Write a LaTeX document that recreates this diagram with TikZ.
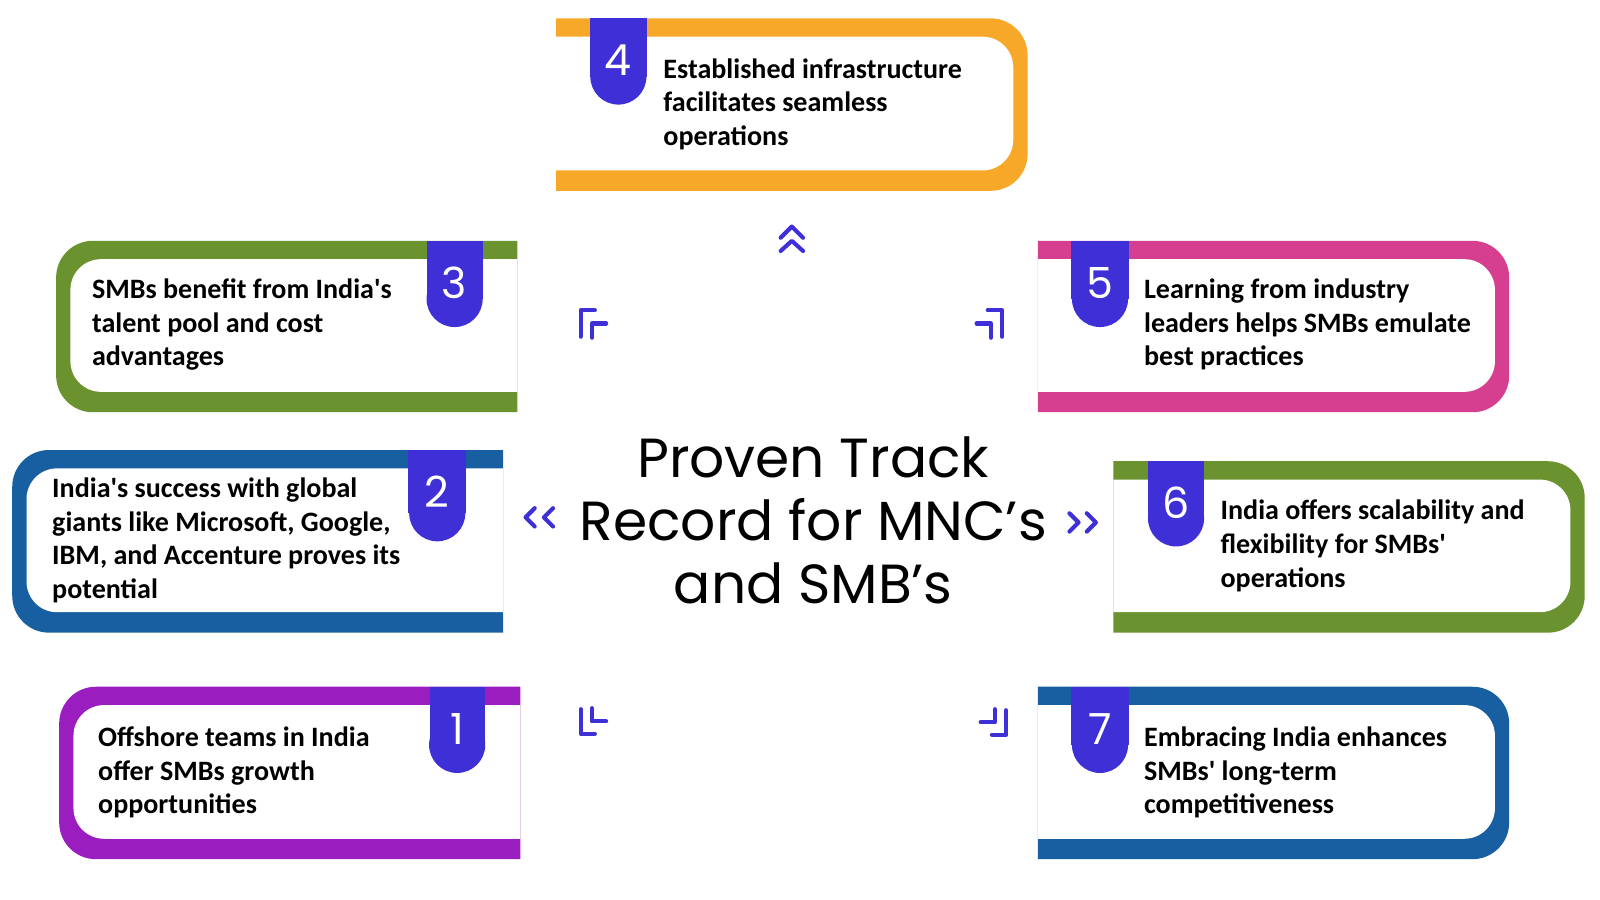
\documentclass[tikz,border=0pt]{standalone}
\usepackage{fontspec}
\setmainfont{Carlito}[Ligatures=TeXOff]
\newfontfamily\popp{Poppins}
\begin{document}
\begin{tikzpicture}[x=1pt,y=-1pt,
 chev/.style={draw=chevc,line width=4pt,line cap=round,line join=round},
 txt/.style={anchor=north west,inner sep=0pt,align=left,font=\fontsize{27.5}{33}\selectfont\bfseries},
 num/.style={text=white,font=\popp\fontsize{42}{42}\selectfont,inner sep=0pt}]
\definecolor{chevc}{HTML}{3F2FD6}
\definecolor{cpur}{HTML}{9A1DBF}
\definecolor{cblu}{HTML}{175FA0}
\definecolor{cgrn}{HTML}{6A922E}
\definecolor{corg}{HTML}{F8A829}
\definecolor{cpnk}{HTML}{D63E8F}
\newcommand\mycardL[5]{%
 \begin{scope}\clip (#2-5,#3-5) rectangle (#4,#5+5);
 \fill[#1,rounded corners=36pt] (#2,#3) rectangle (#4+60,#5);
 \fill[white,rounded corners=30pt] (#2+14,#3+18) rectangle (#4+60,#5-20);
 \end{scope}}
\newcommand\mycardR[5]{%
 \begin{scope}\clip (#2,#3-5) rectangle (#4+5,#5+5);
 \fill[#1,rounded corners=36pt] (#2-60,#3) rectangle (#4,#5);
 \fill[white,rounded corners=30pt] (#2-60,#3+18) rectangle (#4-14,#5-20);
 \end{scope}}
\newcommand\mybadge[5]{%
 \fill[chevc] (#2,#4) rectangle (#3,#5-27);
 \fill[chevc] ({(#2+#3)/2},#5-27) circle (27.5);
 \node[num] (#1) at ({(#2+#3)/2},#4+41) {\bnum};}
\mycardL{cpur}{58}{673}{510}{842}
\mycardL{cblu}{12}{441}{493}{620}
\mycardL{cgrn}{55}{236}{507}{404}
\mycardR{corg}{545}{18}{1007}{187}
\mycardR{cpnk}{1017}{236}{1479}{404}
\mycardR{cgrn}{1091}{452}{1553}{620}
\mycardR{cblu}{1017}{673}{1479}{842}
\def\bnum{1}\mybadge{b1}{421}{475}{673}{757}
\def\bnum{2}\mybadge{b2}{400}{457}{441}{530}
\def\bnum{3}\mybadge{b3}{418}{473}{236}{320}
\def\bnum{4}\mybadge{b4}{578}{634}{18}{102}
\def\bnum{5}\mybadge{b5}{1050}{1106}{236}{320}
\def\bnum{6}\mybadge{b6}{1125}{1180}{452}{535}
\def\bnum{7}\mybadge{b7}{1050}{1106}{673}{757}
\node[txt] (t1) at (96,712) {Offshore teams in India\\offer SMBs growth\\opportunities};
\node[txt] (t2) at (51,468) {India's success with global\\giants like Microsoft, Google,\\IBM, and Accenture proves its\\potential};
\node[txt] (t3) at (90,273) {SMBs benefit from India's\\talent pool and cost\\advantages};
\node[txt] (t4) at (650,57) {Established infrastructure\\facilitates seamless\\operations};
\node[txt] (t5) at (1121,273) {Learning from industry\\leaders helps SMBs emulate\\best practices};
\node[txt] (t6) at (1196,490) {India offers scalability and\\flexibility for SMBs'\\operations};
\node[txt] (t7) at (1121,712) {Embracing India enhances\\SMBs' long-term\\competitiveness};
\node[align=center,font=\popp\fontsize{54}{62}\selectfont,inner sep=0pt] (title) at (797,510) {Proven Track\\Record for MNC’s\\and SMB’s};
\draw[chev] (765,233)--(776,222)--(787,233) (765,246)--(776,236)--(787,246);
\draw[chev] (524,498)--(515,507)--(524,516) (542,498)--(533,507)--(542,516);
\draw[chev] (1048,503)--(1057,512)--(1048,521) (1065,503)--(1074,512)--(1065,521);
\draw[chev] (569,330)--(569,304)--(583,304) (580,331)--(580,317)--(594,317);
\draw[chev] (982,330)--(982,304)--(968,304) (971,331)--(971,317)--(957,317);
\draw[chev] (569,695)--(569,719)--(583,719) (580,694)--(580,707)--(594,707);
\draw[chev] (986,696)--(986,720)--(972,720) (975,695)--(975,708)--(961,708);
\pgfresetboundingbox
\path[use as bounding box] (0,0) rectangle (1568,882);
\end{tikzpicture}
\end{document}
